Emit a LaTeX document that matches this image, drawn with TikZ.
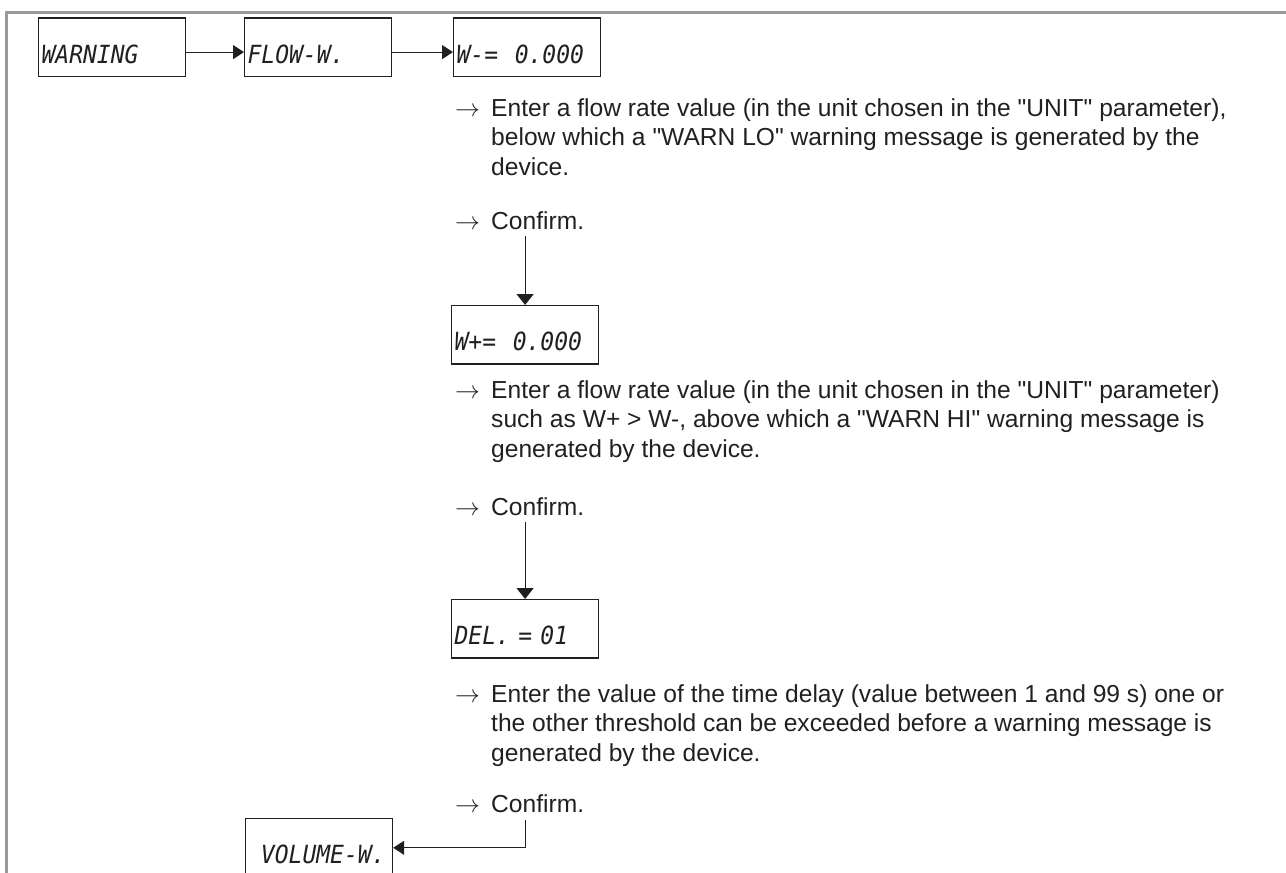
\documentclass[tikz,border=0pt]{standalone}
\usepackage{fontspec}
\setmainfont{Liberation Sans}[Ligatures=TeXOff]
\newfontfamily\lcdfont[FakeStretch=0.92]{DejaVu Sans Mono}
\usetikzlibrary{arrows.meta}
\definecolor{ink}{HTML}{231F20}
\definecolor{framegray}{HTML}{9A9A9A}
\begin{document}
\begin{tikzpicture}[x=1pt,y=-1pt,
  lcd/.style={draw=ink, line width=1.2pt, minimum width=147pt, minimum height=58.4pt,
    inner xsep=3pt, inner ysep=0pt, text width=141pt, align=left, anchor=north west,
    font=\lcdfont\itshape\fontsize{25}{25}\selectfont, text=ink, text height=32pt, text depth=0pt},
  lcdr/.style={lcd, align=right, inner xsep=7pt, text width=133pt},
  body/.style={anchor=base west, inner sep=0pt, font=\fontsize{24.6}{29.5}\selectfont, text=ink},
  sym/.style={anchor=base west, inner sep=0pt, font=\fontsize{23}{23}\selectfont, text=ink},
  conn/.style={draw=ink, line width=1.2pt, -{Triangle[length=11pt,width=14pt]}},
  vconn/.style={draw=ink, line width=1.2pt, -{Triangle[length=11pt,width=17pt]}},
  frameline/.style={draw=framegray, line width=2.5pt}]
\useasboundingbox (0,0) rectangle (1286,873);
\draw[frameline] (1290,12.7) -- (6.3,12.7) -- (6.3,880);

% top row
\node[lcd] (wa) at (38,17.3) {WARNING};
\node[lcd] (fw) at (244,17.3) {FLOW-W.};
\node[lcd] (wm) at (453,17.3) {W-=~~0.000};
\draw[conn] ([yshift=-5pt]wa.east) -- ([yshift=-5pt]fw.west);
\draw[conn] ([yshift=-5pt]fw.east) -- ([yshift=-5pt]wm.west);

% paragraph 1
\node[sym]  (a1) at (455,116) {$\rightarrow$};
\node[body] (p1a) at (491,116) {Enter a flow rate value (in the unit chosen in the "UNIT" parameter),};
\node[body] (p1b) at (491,145.5) {below which a "WARN LO" warning message is generated by the};
\node[body] (p1c) at (491,175) {device.};
\node[sym]  (a2) at (455,229) {$\rightarrow$};
\node[body] (c1) at (491,229) {Confirm.};

\node[lcd] (wp) at (451,305) {W+=~~0.000};
\draw[vconn] ([yshift=-7pt]c1.base -| wp.north) -- (wp.north);

% paragraph 2
\node[sym]  (a3) at (455,398) {$\rightarrow$};
\node[body] (p2a) at (491,398) {Enter a flow rate value (in the unit chosen in the "UNIT" parameter)};
\node[body] (p2b) at (491,427.5) {such as W+ > W-, above which a "WARN HI" warning message is};
\node[body] (p2c) at (491,457) {generated by the device.};
\node[sym]  (a4) at (455,515) {$\rightarrow$};
\node[body] (c2) at (491,515) {Confirm.};

\node[lcd] (dl) at (451,599) {DEL. = 01};
\draw[vconn] ([yshift=-7pt]c2.base -| dl.north) -- (dl.north);

% paragraph 3
\node[sym]  (a5) at (455,702) {$\rightarrow$};
\node[body] (p3a) at (491,702) {Enter the value of the time delay (value between 1 and 99 s) one or};
\node[body] (p3b) at (491,731.5) {the other threshold can be exceeded before a warning message is};
\node[body] (p3c) at (491,761) {generated by the device.};
\node[sym]  (a6) at (455,812) {$\rightarrow$};
\node[body] (c3) at (491,812) {Confirm.};

\node[lcdr] (vw) at (245,818) {VOLUME-W.};
\draw[conn] ([yshift=-8pt]c3.base -| dl.north) |- (vw.east);
\end{tikzpicture}
\end{document}
